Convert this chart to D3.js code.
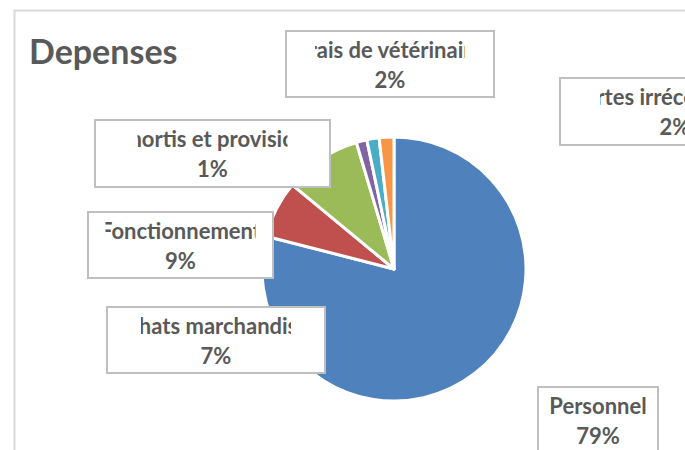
<!DOCTYPE html>
<html>
<head>
<meta charset="utf-8">
<script src="https://cdn.jsdelivr.net/npm/d3@7"></script>
<style>
  body { margin: 0; background: #fff; }
  svg { display: block; font-family: Lato, "Open Sans", sans-serif; }
</style>
</head>
<body>
<svg></svg>
<script>
const svgWidth = 685
const svgHeight = 450

// data
const categories = ["Personnel", "Achats marchandises", "Fonctionnement", "Amortis et provisions", "Frais de vétérinaire", "Pertes irrécouvrables"]
const values = [79.0, 7.0, 9.4, 1.3, 1.5, 1.8]
const colors = ["#4F81BD", "#C0504D", "#9BBB59", "#8064A2", "#4BACC6", "#F79646"]

// label box layout (manually placed like in the original)
const labelBoxes = [
  { x: 538, y: 387, w: 120, h: 80 },
  { x: 107, y: 307, w: 218, h: 66 },
  { x: 88, y: 212, w: 185, h: 66 },
  { x: 95, y: 120, w: 235, h: 67 },
  { x: 286, y: 31, w: 208, h: 66 },
  { x: 560, y: 78, w: 230, h: 67 }
]
const clipW = 150

const center = { x: 394, y: 269 }
const radius = 132

const svg = d3.select("svg")
  .attr("width", svgWidth)
  .attr("height", svgHeight)

svg.append("rect")
  .attr("x", 14.5)
  .attr("y", 10.5)
  .attr("width", 700)
  .attr("height", 470)
  .attr("fill", "none")
  .attr("stroke", "#d9d9d9")
  .attr("stroke-width", 2)

svg.append("text")
  .text("Depenses")
  .attr("x", 29)
  .attr("y", 64)
  .attr("font-size", 34)
  .attr("font-weight", "bold")
  .attr("fill", "#595959")

const pie = d3.pie().sort(null).value((d) => d)
const arc = d3.arc().innerRadius(0).outerRadius(radius)
const total = d3.sum(values)

const pieGroup = svg.append("g")
  .attr("transform", `translate(${center.x},${center.y})`)

pieGroup.selectAll("path")
  .data(pie(values))
  .enter()
  .append("path")
  .attr("d", arc)
  .attr("fill", (d, i) => colors[i])
  .attr("stroke", "#fff")
  .attr("stroke-width", 3)
  .attr("stroke-linejoin", "round")

const defs = svg.append("defs")
defs.selectAll("clipPath")
  .data(labelBoxes)
  .enter()
  .append("clipPath")
  .attr("id", (d, i) => `clip-${i}`)
  .append("rect")
  .attr("x", (d) => d.x + d.w / 2 - clipW / 2)
  .attr("y", (d) => d.y)
  .attr("width", clipW)
  .attr("height", (d) => d.h)

const labels = svg.selectAll(".label")
  .data(categories)
  .enter()
  .append("g")
  .attr("class", "label")

labels.append("rect")
  .attr("x", (d, i) => labelBoxes[i].x)
  .attr("y", (d, i) => labelBoxes[i].y)
  .attr("width", (d, i) => labelBoxes[i].w)
  .attr("height", (d, i) => labelBoxes[i].h)
  .attr("fill", "#fff")
  .attr("stroke", "#bfbfbf")
  .attr("stroke-width", 2)

labels.append("text")
  .attr("clip-path", (d, i) => `url(#clip-${i})`)
  .attr("x", (d, i) => labelBoxes[i].x + labelBoxes[i].w / 2)
  .attr("y", (d, i) => labelBoxes[i].y + 27)
  .attr("text-anchor", "middle")
  .attr("font-size", 22)
  .attr("font-weight", "bold")
  .attr("fill", "#595959")
  .text((d) => d)

labels.append("text")
  .attr("x", (d, i) => labelBoxes[i].x + labelBoxes[i].w / 2)
  .attr("y", (d, i) => labelBoxes[i].y + 57)
  .attr("text-anchor", "middle")
  .attr("font-size", 22)
  .attr("font-weight", "bold")
  .attr("fill", "#595959")
  .text((d, i) => `${Math.round(values[i] / total * 100)}%`)
</script>
</body>
</html>
